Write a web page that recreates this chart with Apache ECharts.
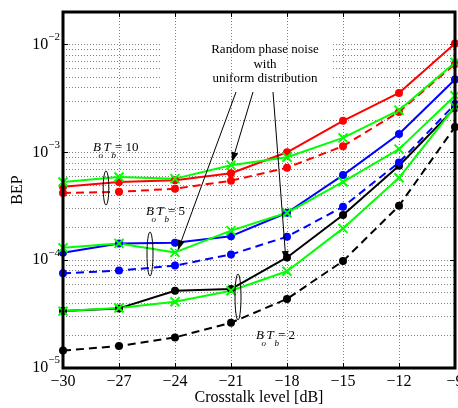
<!DOCTYPE html>
<html>
<head>
<meta charset="utf-8">
<script src="https://cdn.jsdelivr.net/npm/echarts@6/dist/echarts.min.js"></script>
<style>html,body{margin:0;padding:0;background:#fff;}#c{width:458px;height:408px;}</style>
</head>
<body>
<div id="c"></div>
<script>
// ---- data ----
const crosstalk = [-30, -27, -24, -21, -18, -15, -12, -9];
const red10PN   = [4.8e-4, 5.3e-4, 5.5e-4, 6.4e-4, 1.0e-3, 1.96e-3, 3.55e-3, 1.02e-2];
const red10     = [4.2e-4, 4.3e-4, 4.6e-4, 5.45e-4, 7.2e-4, 1.14e-3, 2.37e-3, 6.6e-3];
const green10   = [5.3e-4, 5.9e-4, 5.7e-4, 7.6e-4, 9.0e-4, 1.36e-3, 2.46e-3, 6.8e-3];
const blue5PN   = [1.17e-4, 1.43e-4, 1.45e-4, 1.67e-4, 2.75e-4, 6.15e-4, 1.48e-3, 4.74e-3];
const blue5     = [7.55e-5, 8.0e-5, 8.9e-5, 1.13e-4, 1.65e-4, 3.13e-4, 8.05e-4, 2.8e-3];
const green5    = [1.3e-4, 1.43e-4, 1.18e-4, 1.88e-4, 2.75e-4, 5.33e-4, 1.07e-3, 3.35e-3];
const black2PN  = [3.37e-5, 3.57e-5, 5.2e-5, 5.4e-5, 1.06e-4, 2.62e-4, 7.5e-4, 2.57e-3];
const black2    = [1.45e-5, 1.6e-5, 1.92e-5, 2.63e-5, 4.37e-5, 9.8e-5, 3.19e-4, 1.72e-3];
const green2    = [3.37e-5, 3.6e-5, 4.12e-5, 5.2e-5, 7.9e-5, 1.97e-4, 5.8e-4, 2.64e-3];
const gridDecades = [1e-5, 1e-4, 1e-3, 1e-2];
const gridMultipliers = [1, 2, 3, 4, 5, 6, 7, 8, 9];

const FONT = '"Liberation Serif", "Times New Roman", serif';
const pair = ys => crosstalk.map((x, i) => [x, ys[i]]);
const CROSS = 'path://M0,0L10,10M10,0L0,10';

function lineSeries(name, ys, color, dashed, symbol) {
  const isCross = symbol === 'cross';
  return {
    name, type: 'line', data: pair(ys), z: 3,
    symbol: isCross ? CROSS : 'circle',
    symbolSize: isCross ? 9 : 8,
    showAllSymbol: true,
    lineStyle: { color, width: 2, type: dashed ? [8, 5] : 'solid' },
    itemStyle: isCross ? { color: 'rgba(0,0,0,0)', borderColor: color, borderWidth: 2 } : { color, borderWidth: 0 },
    emphasis: { disabled: true },
    animation: false
  };
}

const gridLines = [];
gridDecades.forEach(d => gridMultipliers.forEach(m => {
  const v = d * m;
  if (v < 0.0199) gridLines.push({ yAxis: v });
}));

const RED = '#ff0000', BLUE = '#0000ff', GREEN = '#00ff00', BLACK = '#000000';
const GRIDC = '#808080';

const series = [
  { name: 'grid', type: 'line', data: pair(black2), z: 0, silent: true, symbol: 'none',
    lineStyle: { opacity: 0 }, itemStyle: { opacity: 0 },
    markLine: { silent: true, z: 0, precision: 12, symbol: ['none', 'none'], label: { show: false },
      lineStyle: { type: [1, 2], color: GRIDC, width: 1 }, emphasis: { disabled: true },
      data: gridLines, animation: false } },
  lineSeries('black2', black2, BLACK, true, 'circle'),
  lineSeries('black2PN', black2PN, BLACK, false, 'circle'),
  lineSeries('blue5', blue5, BLUE, true, 'circle'),
  lineSeries('blue5PN', blue5PN, BLUE, false, 'circle'),
  lineSeries('red10', red10, RED, true, 'circle'),
  lineSeries('red10PN', red10PN, RED, false, 'circle'),
  lineSeries('green2', green2, GREEN, false, 'cross'),
  lineSeries('green5', green5, GREEN, false, 'cross'),
  lineSeries('green10', green10, GREEN, false, 'cross')
];

const minus = v => (v < 0 ? '\u2212' : '') + Math.abs(v);

function yLabel(v) {
  const l = Math.log10(v);
  const r = Math.round(l);
  if (Math.abs(l - r) > 1e-6) return '';
  return '{a|10}{b|' + minus(r) + '}';
}

// annotations
const graphics = [];
graphics.push({ type: 'rect', z: 1, silent: true, shape: { x: 162, y: 38, width: 169, height: 54 }, style: { fill: '#fff' } });
function txt(text, x, y, size, italic, align) {
  graphics.push({ type: 'text', z: 20, silent: true, x: x, y: y,
    style: { text, font: (italic ? 'italic ' : '') + size + 'px ' + FONT, fill: '#000',
      align: align || 'left', verticalAlign: 'middle', textAlign: align || 'left', textVerticalAlign: 'middle' } });
}
txt('Random phase noise', 265, 50, 13, false, 'center');
txt('with', 265, 64.5, 13, false, 'center');
txt('uniform distribution', 265, 79, 13, false, 'center');
function btLabel(x0, y0, num) {
  txt('B', x0, y0, 13, true);
  txt('o', x0 + 5.5, y0 + 8, 9, true);
  txt('T', x0 + 10.5, y0, 13, true);
  txt('b', x0 + 18.5, y0 + 8, 9, true);
  txt('= ' + num, x0 + 22, y0, 13, false);
}
btLabel(93, 148, '10');
btLabel(146, 212, '5');
btLabel(256, 336, '2');
function ellipse(cx, cy, rx, ry) {
  graphics.push({ type: 'ellipse', z: 20, silent: true, shape: { cx, cy, rx, ry }, style: { fill: 'none', stroke: '#000', lineWidth: 1 } });
}
ellipse(106, 188, 2.8, 17);
ellipse(150, 254, 3, 22);
ellipse(238, 297, 3, 23);
function arrow(x1, y1, x2, y2) {
  const dx = x2 - x1, dy = y2 - y1, L = Math.hypot(dx, dy);
  const ux = dx / L, uy = dy / L, hl = 10, hw = 3.5;
  const bx = x2 - ux * hl, by = y2 - uy * hl;
  graphics.push({ type: 'line', z: 20, silent: true, shape: { x1, y1, x2: bx, y2: by }, style: { stroke: '#000', lineWidth: 1 } });
  graphics.push({ type: 'polygon', z: 20, silent: true,
    shape: { points: [[x2, y2], [bx - uy * hw, by + ux * hw], [bx + uy * hw, by - ux * hw]] },
    style: { fill: '#000' } });
}
arrow(236, 92, 178, 250);
arrow(253, 92, 232, 162);
arrow(273, 92, 286, 261);

const chart = echarts.init(document.getElementById('c'), null, { renderer: 'canvas' });
chart.setOption({
  animation: false,
  backgroundColor: '#fff',
  grid: { left: 63, right: 3, top: 12, bottom: 40, show: true, borderColor: '#000', borderWidth: 3,
    backgroundColor: 'transparent', z: 10, containLabel: false, outerBoundsMode: 'none' },
  xAxis: [
    { type: 'value', min: -30, max: -9, interval: 3, position: 'bottom', z: 2,
      axisLine: { show: false }, axisTick: { show: true, inside: true, length: 5, lineStyle: { color: '#000' } },
      axisLabel: { formatter: minus, fontSize: 16, fontFamily: FONT, color: '#000', margin: 6 },
      splitLine: { show: true, lineStyle: { type: [1, 2], color: GRIDC, width: 1 } },
      name: 'Crosstalk level [dB]', nameLocation: 'middle', nameGap: 22, nameMoveOverlap: false,
      nameTextStyle: { fontSize: 16, fontFamily: FONT, color: '#000' } },
    { type: 'value', min: -30, max: -9, interval: 3, position: 'top', z: 2,
      axisLine: { show: false }, axisTick: { show: true, inside: true, length: 5, lineStyle: { color: '#000' } },
      axisLabel: { show: false }, splitLine: { show: false } }
  ],
  yAxis: [
    { type: 'log', logBase: 10, min: 1e-5, max: 0.02, position: 'left', z: 2,
      axisLine: { show: false }, axisTick: { show: true, inside: true, length: 5, lineStyle: { color: '#000' } },
      axisLabel: { formatter: yLabel, color: '#000', margin: 3, showMaxLabel: false,
        rich: { a: { fontSize: 16, fontFamily: FONT, color: '#000', lineHeight: 26 },
                b: { fontSize: 11, fontFamily: FONT, color: '#000', lineHeight: 11, verticalAlign: 'top' } } },
      splitLine: { show: false },
      name: 'BEP', nameLocation: 'middle', nameGap: 37, nameMoveOverlap: false,
      nameTextStyle: { fontSize: 16, fontFamily: FONT, color: '#000' } },
    { type: 'log', logBase: 10, min: 1e-5, max: 0.02, position: 'right', z: 2,
      axisLine: { show: false }, axisTick: { show: true, inside: true, length: 5, lineStyle: { color: '#000' } },
      axisLabel: { show: false }, splitLine: { show: false } }
  ],
  series: series,
  graphic: graphics
});
</script>
</body>
</html>
